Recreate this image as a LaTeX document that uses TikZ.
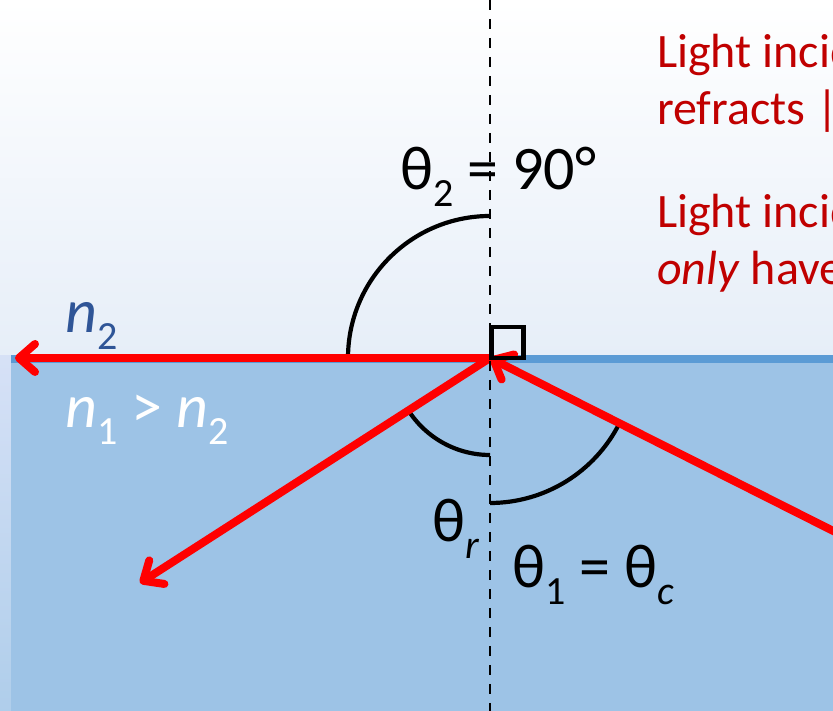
\documentclass[tikz,border=0pt]{standalone}
\usepackage{fontspec}
\setmainfont{Carlito}
\usetikzlibrary{arrows.meta}
\definecolor{water}{HTML}{9DC3E6}
\definecolor{surface}{HTML}{5B9BD5}
\definecolor{skyblue}{HTML}{E6EEF8}
\definecolor{noteRed}{HTML}{C00000}
\definecolor{indexBlue}{HTML}{2F5597}
\newcommand\lowsub[1]{\raisebox{-0.27em}{\fontsize{40}{40}\selectfont #1}}
\begin{document}
\begin{tikzpicture}[x=1pt,y=1pt,>={Straight Barb[length=16pt,width=28pt,round]},
		ray/.style={red,line width=8pt,line cap=round},
		angarc/.style={black,line width=4.2pt},
		lbl/.style={anchor=base west,inner sep=0pt,font=\fontsize{62}{74}\selectfont},
		note/.style={anchor=base west,inner sep=0pt,align=left,text=noteRed,
			font=\fontsize{48}{57}\selectfont}]
		\useasboundingbox (0,0) rectangle (833,711);
		\clip (0,0) rectangle (833,711);
		% background and glass
		\shade[top color=white,middle color=white,bottom color=skyblue] (0,355) rectangle (833,711);
		\shade[top color=blue!4!skyblue!90!water,bottom color=water!75!skyblue] (0,0) rectangle (11,355);
		\fill[water] (11,0) rectangle (833,348);
		\fill[surface] (11,348) rectangle (833,356);
		\coordinate (O) at (490,353);
		\coordinate (src) at (865,164);
		\coordinate (refl) at (140,128);
		\coordinate (surf) at (15,353);
		% angle arcs
		\draw[angarc] (O) ++(90:142) arc[start angle=90,end angle=180,radius=142];
		\draw[angarc] (O) ++(212.7:97) arc[start angle=212.7,end angle=270,radius=97];
		\draw[angarc] (O) ++(-90:145) arc[start angle=-90,end angle=-26.7,radius=145];
		% rays
		\draw[ray,->] (O) -- (surf);
		\draw[ray,->] (O) -- (refl);
		\draw[ray,->] (src) -- (O);
		\draw[angarc] (O) ++(1.5,0) rectangle ++(32,31);
		% labels
		\node[lbl] (theta2) at (400,521) {θ\lowsub{2} = 90°};
		\node[lbl] (thetar) at (432,169) {θ\lowsub{\textit{r}}};
		\node[lbl] (thetac) at (512,123) {θ\lowsub{1} = θ\lowsub{\textit{c}}};
		\node[lbl,text=indexBlue] (ntop) at (65,378) {\textit{n}\lowsub{2}};
		\node[lbl,text=white] (nbot) at (65,283) {\textit{n}\lowsub{1} > \textit{n}\lowsub{2}};
		\node[note] (noteA) at (657,586) {Light incid\\refracts |};
		\node[note] (noteB) at (657,426) {Light incid\\\textit{only} have};
		% normal
		\draw[black,line width=2.6pt,dash pattern=on 10pt off 9pt] (490,711) -- (490,0);
	\end{tikzpicture}
\end{document}
